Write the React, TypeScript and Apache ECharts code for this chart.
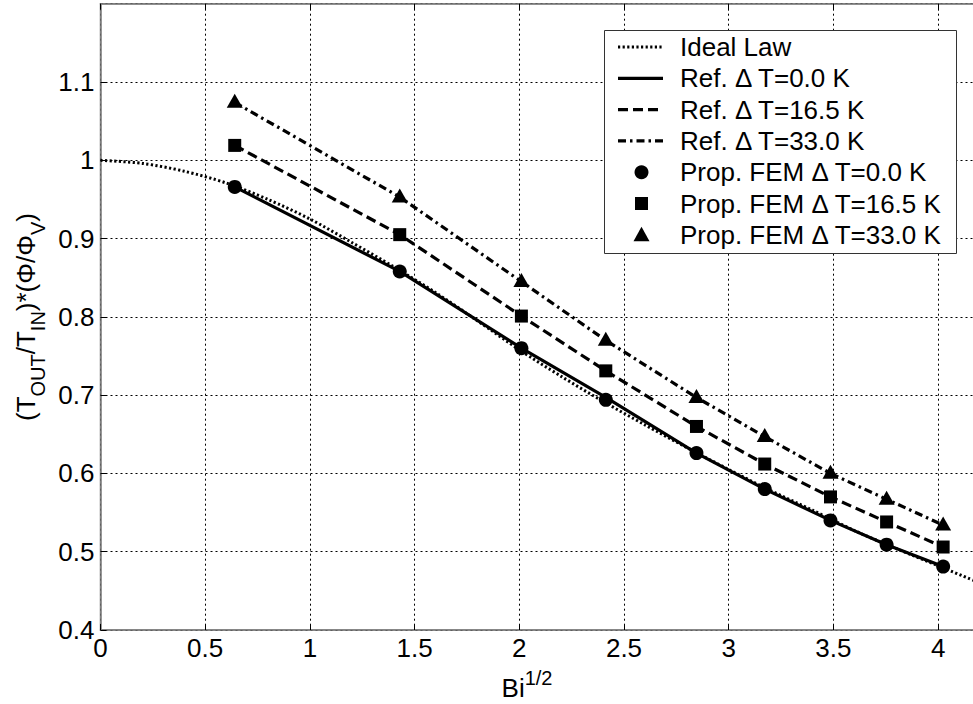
import React, { useEffect, useRef } from "react";
import * as echarts from "echarts";

const FONT = 'Arial, "Liberation Sans", sans-serif';

// Bi^{1/2} positions of the FEM / reference points
const xPoints = [0.641, 1.429, 2.01, 2.413, 2.846, 3.172, 3.486, 3.754, 4.024];

// Reference curves
const ref0 = [0.966, 0.858, 0.76, 0.697, 0.626, 0.58, 0.54, 0.509, 0.481];
const ref165 = [1.019, 0.905, 0.801, 0.731, 0.66, 0.612, 0.57, 0.538, 0.506];
const ref33 = [1.074, 0.953, 0.845, 0.77, 0.697, 0.647, 0.6, 0.567, 0.534];

// Proposed FEM markers
const fem0 = [0.966, 0.858, 0.76, 0.694, 0.626, 0.58, 0.54, 0.509, 0.481];
const fem165 = [1.019, 0.905, 0.801, 0.731, 0.66, 0.612, 0.57, 0.538, 0.506];
const fem33 = [1.076, 0.955, 0.847, 0.772, 0.699, 0.649, 0.602, 0.569, 0.536];

// Ideal law curve
const idealX = [0, 0.2, 0.4, 0.6, 0.8, 1.0, 1.2, 1.4, 1.6, 1.8, 2.0, 2.2, 2.4, 2.6, 2.8, 3.0, 3.2, 3.4, 3.6, 3.8, 4.0, 4.2];
const idealY = [1.0, 0.996, 0.986, 0.971, 0.95, 0.925, 0.895, 0.864, 0.831, 0.795, 0.758, 0.724, 0.692, 0.662, 0.633, 0.605, 0.578, 0.553, 0.527, 0.504, 0.482, 0.46];

const legendLabels = [
  "Ideal Law",
  "Ref. Δ T=0.0 K",
  "Ref. Δ T=16.5 K",
  "Ref. Δ T=33.0 K",
  "Prop. FEM Δ T=0.0 K",
  "Prop. FEM Δ T=16.5 K",
  "Prop. FEM Δ T=33.0 K",
];

const pairs = (xs: number[], ys: number[]) => xs.map((x, i) => [x, ys[i]]);

const AXIS_GRAY = "#7f7f7f";
const FS = 26;
const gridLine = { show: true, lineStyle: { type: [2, 3] as any, color: "#000", width: 1 } };

export default function App() {
  const ref = useRef<HTMLDivElement>(null);
  useEffect(() => {
    if (!ref.current) return;
    const chart = echarts.init(ref.current, null, { renderer: "svg" });

    const lineDashes: (number[] | null)[] = [[2.2, 2.4], null, [10, 5], [8, 4, 2.5, 4]];
    const lineWidths = [3, 3.2, 3.2, 3.2];
    const rowY0 = 47;
    const rowStep = 31.3;
    const legendGraphics: any[] = [
      {
        type: "rect",
        z: 100,
        shape: { x: 604.5, y: 30.5, width: 352, height: 223 },
        style: { fill: "#fff", stroke: "#333", lineWidth: 1 },
      },
    ];
    legendLabels.forEach((lab, i) => {
      const y = rowY0 + i * rowStep;
      legendGraphics.push({
        type: "text",
        z: 101,
        x: 680,
        y,
        style: { text: lab, fill: "#000", fontSize: FS, fontFamily: FONT, align: "left", verticalAlign: "middle" },
      });
      if (i < 4) {
        legendGraphics.push({
          type: "line",
          z: 101,
          shape: { x1: 618, y1: y, x2: 663, y2: y },
          style: { stroke: "#000", lineWidth: lineWidths[i], lineDash: lineDashes[i] || undefined },
        });
      }
    });
    const mx = 641.5;
    legendGraphics.push(
      { type: "circle", z: 101, shape: { cx: mx, cy: rowY0 + 4 * rowStep, r: 7 }, style: { fill: "#000" } },
      { type: "rect", z: 101, shape: { x: mx - 6.5, y: rowY0 + 5 * rowStep - 6.5, width: 13, height: 13 }, style: { fill: "#000" } },
      {
        type: "polygon",
        z: 101,
        shape: {
          points: [
            [mx, rowY0 + 6 * rowStep - 8],
            [mx + 8, rowY0 + 6 * rowStep + 6.5],
            [mx - 8, rowY0 + 6 * rowStep + 6.5],
          ],
        },
        style: { fill: "#000" },
      }
    );

    const axisTitles: any[] = [
      {
        type: "text",
        x: 26,
        y: 317,
        rotation: Math.PI / 2,
        style: {
          text: "{m|(T}{s|OUT}{m|/T}{s|IN}{m|)*(Φ/Φ}{s|V}{m|)}",
          align: "center",
          verticalAlign: "middle",
          rich: {
            m: { fontSize: FS, fontFamily: FONT, lineHeight: 44, fill: "#000" },
            s: { fontSize: 20, fontFamily: FONT, lineHeight: 20, verticalAlign: "bottom", fill: "#000" },
          },
        },
      },
      {
        type: "text",
        x: 527,
        y: 688,
        style: {
          text: "{m|Bi}{p|1/2}",
          align: "center",
          verticalAlign: "middle",
          rich: {
            m: { fontSize: FS, fontFamily: FONT, lineHeight: 40, fill: "#000" },
            p: { fontSize: 20, fontFamily: FONT, lineHeight: 20, verticalAlign: "top", fill: "#000" },
          },
        },
      },
    ];

    const fmt = (v: number) => String(Math.round(v * 100) / 100);

    const option: any = {
      animation: false,
      backgroundColor: "#fff",
      grid: {
        left: 100.5,
        top: 3.7,
        width: 879.5,
        height: 626.3,
        show: true,
        borderColor: AXIS_GRAY,
        borderWidth: 1.5,
        backgroundColor: "#fff",
      },
      xAxis: [
        {
          type: "value",
          min: 0,
          max: 4.2,
          interval: 0.5,
          axisLine: { show: true, lineStyle: { color: AXIS_GRAY, width: 1.5 } },
          axisTick: { show: true, inside: true, length: 6, lineStyle: { color: "#000", width: 1 } },
          axisLabel: { color: "#000", fontSize: FS, fontFamily: FONT, margin: 5, showMaxLabel: false, formatter: fmt },
          splitLine: gridLine,
        },
        {
          type: "value",
          position: "top",
          min: 0,
          max: 4.2,
          interval: 0.5,
          axisLine: { show: true, lineStyle: { color: AXIS_GRAY, width: 1.5 } },
          axisTick: { show: true, inside: true, length: 6, lineStyle: { color: "#000", width: 1 } },
          axisLabel: { show: false },
          splitLine: { show: false },
        },
      ],
      yAxis: [
        {
          type: "value",
          min: 0.4,
          max: 1.2,
          interval: 0.1,
          axisLine: { show: true, lineStyle: { color: AXIS_GRAY, width: 1.5 } },
          axisTick: { show: true, inside: true, length: 6, lineStyle: { color: "#000", width: 1 } },
          axisLabel: { color: "#000", fontSize: FS, fontFamily: FONT, margin: 6, showMaxLabel: false, formatter: fmt },
          splitLine: gridLine,
        },
      ],
      series: [
        {
          type: "line",
          name: legendLabels[0],
          data: pairs(idealX, idealY),
          showSymbol: false,
          smooth: 0.3,
          lineStyle: { color: "#000", width: 3, type: [2.2, 2.4] },
          z: 2,
        },
        {
          type: "line",
          name: legendLabels[1],
          data: pairs(xPoints, ref0),
          showSymbol: false,
          lineStyle: { color: "#000", width: 3.2, type: "solid" },
          z: 3,
        },
        {
          type: "line",
          name: legendLabels[2],
          data: pairs(xPoints, ref165),
          showSymbol: false,
          lineStyle: { color: "#000", width: 3.2, type: [10, 5] },
          z: 3,
        },
        {
          type: "line",
          name: legendLabels[3],
          data: pairs(xPoints, ref33),
          showSymbol: false,
          lineStyle: { color: "#000", width: 3.2, type: [8, 4, 2.5, 4] },
          z: 3,
        },
        {
          type: "scatter",
          name: legendLabels[4],
          data: pairs(xPoints, fem0),
          symbol: "circle",
          symbolSize: 14,
          itemStyle: { color: "#000", opacity: 1 },
          z: 4,
        },
        {
          type: "scatter",
          name: legendLabels[5],
          data: pairs(xPoints, fem165),
          symbol: "rect",
          symbolSize: 13,
          itemStyle: { color: "#000", opacity: 1 },
          z: 4,
        },
        {
          type: "scatter",
          name: legendLabels[6],
          data: pairs(xPoints, fem33),
          symbol: "triangle",
          symbolSize: [16, 14],
          itemStyle: { color: "#000", opacity: 1 },
          z: 4,
        },
      ],
      graphic: [...legendGraphics, ...axisTitles],
    };
    chart.setOption(option);
    return () => chart.dispose();
  }, []);

  return (
    <div style={{ position: "fixed", left: 0, top: 0, width: 973, height: 704, overflow: "hidden", background: "#fff" }}>
      <div ref={ref} style={{ width: 990, height: 704 }} />
    </div>
  );
}
